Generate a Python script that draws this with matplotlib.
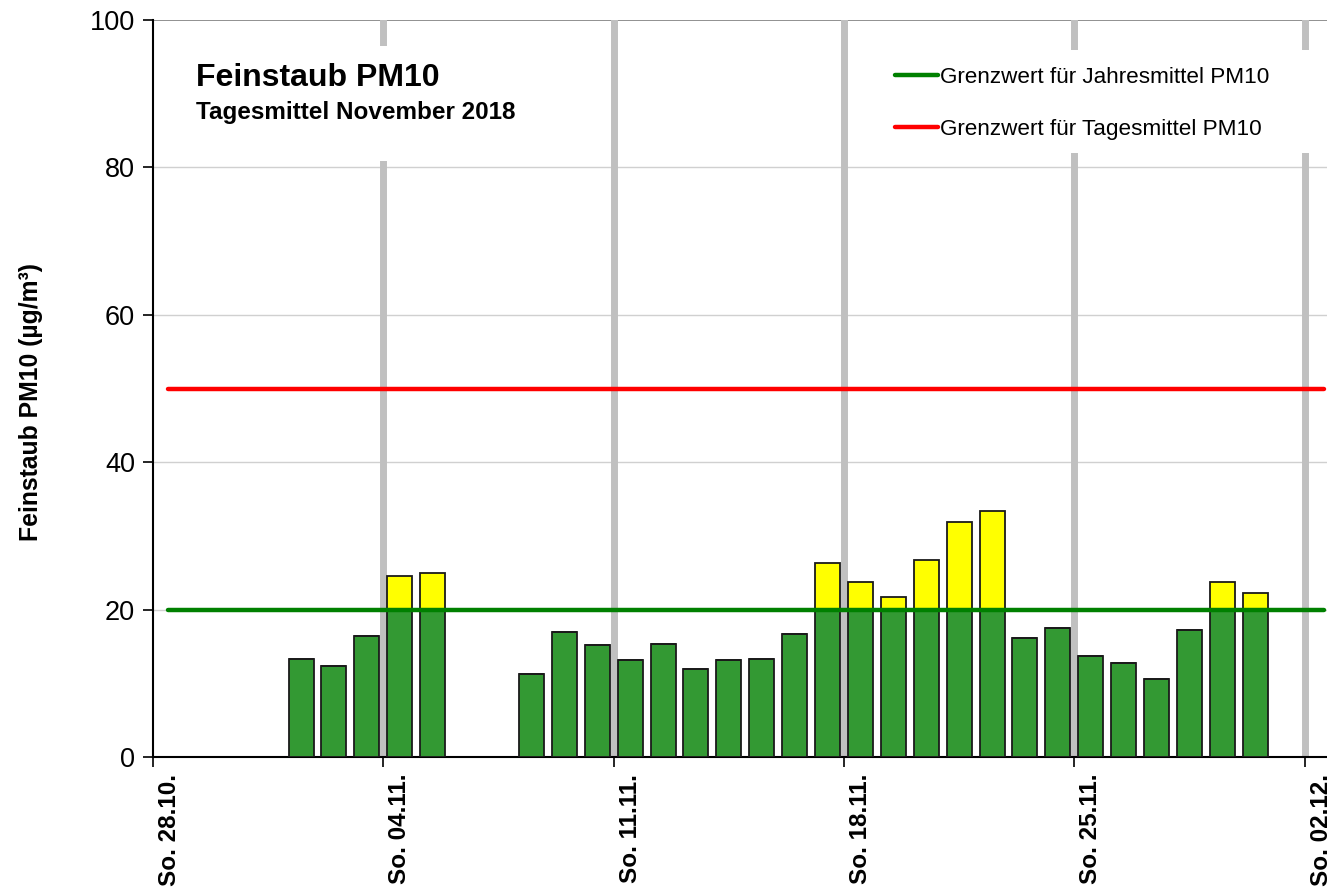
import numpy as np
import matplotlib
matplotlib.use("Agg")
import matplotlib.pyplot as plt
from matplotlib.patches import Rectangle

plt.rcParams['font.family'] = ['Liberation Sans', 'DejaVu Sans']

# daily means PM10, November 2018 (NaN = no value)
days = list(range(1, 31))
pm10 = [13.3, 12.3, 16.4, 24.6, 25.0, np.nan, np.nan, 11.2, 16.9, 15.2,
        13.1, 15.4, 11.9, 13.1, 13.3, 16.7, 26.3, 23.8, 21.7, 26.7,
        31.9, 33.4, 16.2, 17.5, 13.7, 12.7, 10.6, 17.2, 23.7, 22.3]
limit_year = 20
limit_day = 50
sundays = [0, 7, 14, 21, 28, 35]   # days after 28.10.
sunday_labels = ["So. 28.10.", "So. 04.11.", "So. 11.11.", "So. 18.11.", "So. 25.11.", "So. 02.12."]

W, H = 1327, 890
fig = plt.figure(figsize=(W / 100, H / 100), dpi=100)
ax = fig.add_axes([153 / W, (H - 757) / H, (W - 153) / W, (757 - 20) / H])

x = np.array(days) + 3.5          # Nov 1 is day 4 after 28.10., bar centred at noon
v = np.array(pm10)
green = np.minimum(v, limit_year)
yellow = np.where(v > limit_year, v - limit_year, 0)

ax.bar(x, green, width=0.76, color='#339933', edgecolor='#1a1a1a', linewidth=1.3, zorder=3)
ax.bar(x, yellow, bottom=green, width=0.76, color='#ffff00', edgecolor='#1a1a1a', linewidth=1.3, zorder=3)

ax.plot([0.45, 35.6], [limit_year] * 2, color='#008000', lw=3.2, zorder=4,
        label='Grenzwert für Jahresmittel PM10', solid_capstyle='round')
ax.plot([0.45, 35.6], [limit_day] * 2, color='#ff0000', lw=3.2, zorder=4,
        label='Grenzwert für Tagesmittel PM10', solid_capstyle='round')

for s in sundays[1:]:
    ax.axvline(s, color='#c0c0c0', lw=5, zorder=1)
for yy in [20, 40, 60, 80]:
    ax.axhline(yy, color='#d0d0d0', lw=1, zorder=0.5)
ax.axhline(100, color='#888888', lw=1.3, zorder=0.5)

# white boxes behind title and legend
ax.add_patch(Rectangle((0.02, 0.8087), 0.36, 0.156, transform=ax.transAxes,
                       facecolor='white', edgecolor='none', zorder=2))
ax.add_patch(Rectangle((0.61, 0.8195), 0.39, 0.14, transform=ax.transAxes,
                       facecolor='white', edgecolor='none', zorder=2))

fig.text(196 / W, 1 - 78 / H, "Feinstaub PM10", fontsize=23, fontweight='bold',
         va='center', ha='left', zorder=5)
fig.text(196 / W, 1 - 112 / H, "Tagesmittel November 2018", fontsize=17.5, fontweight='bold',
         va='center', ha='left', zorder=5)

leg = ax.legend(loc='upper left', bbox_to_anchor=(895 / W, 1 - 67 / H), bbox_transform=fig.transFigure,
                frameon=False, fontsize=16.2, handlelength=1.9, handletextpad=0.1,
                labelspacing=1.37, borderaxespad=0, borderpad=0)
leg.set_zorder(6)

ax.set_xlim(0, 35.68)
ax.set_ylim(0, 100)
ax.set_yticks([0, 20, 40, 60, 80, 100])
ax.set_xticks(sundays)
ax.set_xticklabels([])
# labels sit a little right of their tick, as in the original
ax.set_xticks([s + 0.5 for s in sundays], minor=True)
ax.set_xticklabels(sunday_labels, minor=True, rotation=90, fontsize=17.5, fontweight='bold', va='top')
ax.tick_params(axis='x', which='minor', length=0, pad=12)
ax.tick_params(axis='y', labelsize=19.5, direction='out', length=7, width=1.2, pad=6)
ax.tick_params(axis='x', which='major', direction='out', length=7, width=1.2)

for sp in ['top', 'right']:
    ax.spines[sp].set_visible(False)
ax.spines['left'].set_linewidth(1.5)
ax.spines['bottom'].set_linewidth(1.5)

ax.set_ylabel("Feinstaub PM10 (µg/m³)", fontsize=17.8, fontweight='bold')
ax.yaxis.set_label_coords(-0.094, 0.482)

fig.savefig("out.png", dpi=100)
